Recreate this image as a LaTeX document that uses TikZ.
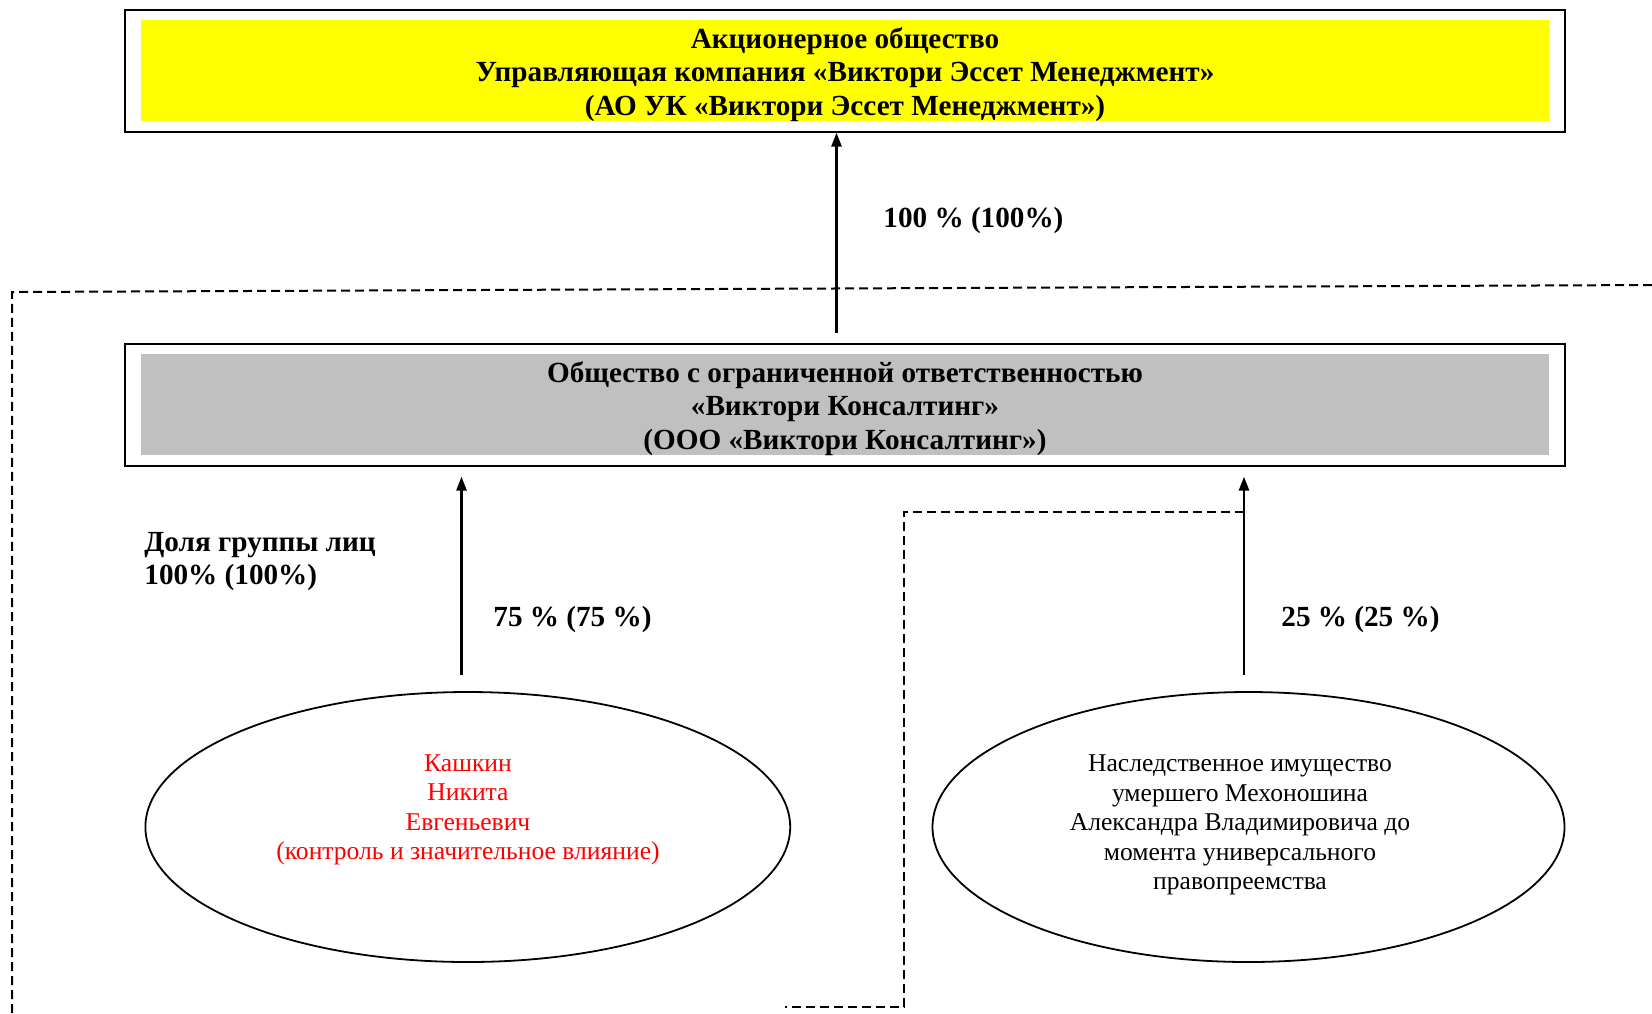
\documentclass[tikz,border=0pt]{standalone}
\usepackage{fontspec}
\setmainfont{Liberation Serif}
\usetikzlibrary{shapes.geometric,arrows.meta,calc}
\definecolor{greyfill}{RGB}{192,192,192}
\definecolor{yellowfill}{RGB}{255,255,0}
\begin{document}
\begin{tikzpicture}[x=0.5pt,y=-0.5pt,
 outerbox/.style={draw, line width=1pt, minimum width=720pt, minimum height=61pt, inner sep=0},
 fillbox/.style={minimum width=704pt, minimum height=50.5pt, inner sep=0},
 boxtext/.style={align=center, inner sep=0, font=\bfseries\fontsize{14.6}{16.85}\selectfont},
 pct/.style={font=\bfseries\fontsize{14.6}{16.85}\selectfont, anchor=west, inner sep=0},
 oval/.style={draw, ellipse, line width=0.9pt, inner sep=0},
 ovaltext/.style={align=center, font=\fontsize{12.8}{14.75}\selectfont},
 arr/.style={line width=1.25pt, -{Triangle[length=7pt,width=5pt]}},
 grp/.style={dash pattern=on 4.5pt off 2.5pt, line width=1pt}]
\path[use as bounding box] (0,0) rectangle (1652,1013);
% group boundaries
\draw[grp] (1652,285) -- (12,292) -- (12,1013);
\draw[grp] (1244,512) -- (904,512) -- (904,1007) -- (785,1007);
% top box
\node[outerbox] (topbox) at (844.5,70.6) {};
\node[fillbox, fill=yellowfill] (topfill) at (845,70.5) {};
\node[boxtext] (toptext) at (845,74.5) {Акционерное общество\\Управляющая компания «Виктори Эссет Менеджмент»\\(АО УК «Виктори Эссет Менеджмент»)};
% middle box
\node[outerbox] (midbox) at (844.5,404.6) {};
\node[fillbox, fill=greyfill] (midfill) at (845,404.5) {};
\node[boxtext] (midtext) at (845,408.5) {Общество с ограниченной ответственностью\\«Виктори Консалтинг»\\(ООО «Виктори Консалтинг»)};
% ellipses
\node[oval, minimum width=322.4pt, minimum height=135pt] (e1) at (467.8,827) {};
\node[oval, minimum width=316pt, minimum height=135pt] (e2) at (1248.5,827) {};
\node[ovaltext, text=red] (e1t) at (468,810) {Кашкин\\Никита\\Евгеньевич\\(контроль и значительное влияние)};
\node[ovaltext] (e2t) at (1240,825) {Наследственное имущество\\умершего Мехоношина\\Александра Владимировича до\\момента универсального\\правопреемства};
% arrows
\draw[arr] ($(midbox.north)+(-8,-10)$) -- ($(topbox.south)+(-8,0)$);
\draw[arr] ($(e1.north)+(-6.3,-16)$) -- ($(e1.north |- midbox.south)+(-6.3,10)$);
\draw[arr] ($(e2.north)+(-4.5,-16)$) -- ($(e2.north |- midbox.south)+(-4.5,10)$);
% labels
\node[pct] (l1) at (883,220) {100 \% (100\%)};
\node[pct] (l2) at (493,619.5) {75 \% (75 \%)};
\node[pct] (l3) at (1281,619.5) {25 \% (25 \%)};
\node[pct, align=left] (grplabel) at (144,561.5) {Доля группы лиц\\100\% (100\%)};
\end{tikzpicture}
\end{document}
